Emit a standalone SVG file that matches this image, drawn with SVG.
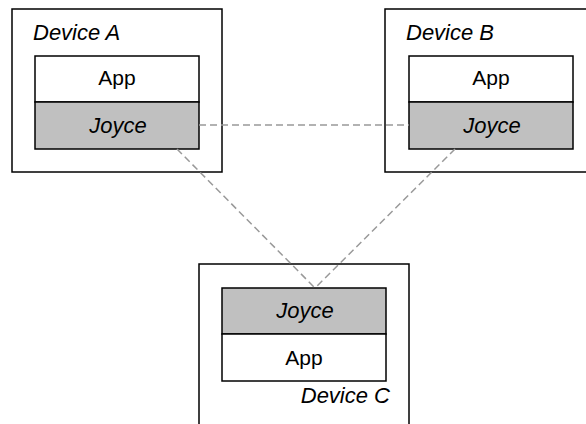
<svg xmlns="http://www.w3.org/2000/svg" width="586" height="424" viewBox="0 0 586 424">
  <style>
    .device { fill: #ffffff; stroke: #000000; stroke-width: 1.5; }
    .app { fill: #ffffff; stroke: #000000; stroke-width: 1.5; }
    .joyce { fill: #c0c0c0; stroke: #000000; stroke-width: 1.5; }
    text { font-family: "Liberation Sans", Arial, sans-serif; font-size: 21px; fill: #000000; }
    .label { font-style: italic; font-size: 22px; }
    .mid { text-anchor: middle; }
    .link { fill: none; stroke: #999999; stroke-width: 1.5; stroke-dasharray: 7 4; }
  </style>

  <!-- Device A -->
  <g id="device-a">
    <rect class="device" x="12" y="9" width="210" height="163"/>
    <text class="label" x="33" y="40">Device A</text>
    <rect class="app" x="35" y="56" width="164" height="46"/>
    <text class="mid" x="117" y="85">App</text>
    <rect class="joyce" x="35" y="102" width="164" height="47"/>
    <text class="label mid" x="118" y="133">Joyce</text>
  </g>

  <!-- Device B -->
  <g id="device-b">
    <rect class="device" x="385" y="9" width="210" height="163"/>
    <text class="label" x="406" y="40">Device B</text>
    <rect class="app" x="409" y="56" width="164" height="46"/>
    <text class="mid" x="491" y="85">App</text>
    <rect class="joyce" x="409" y="102" width="164" height="47"/>
    <text class="label mid" x="492" y="133">Joyce</text>
  </g>

  <!-- Device C -->
  <g id="device-c">
    <rect class="device" x="199" y="264" width="210" height="180"/>
    <rect class="joyce" x="222" y="288" width="164" height="46"/>
    <text class="label mid" x="305" y="318">Joyce</text>
    <rect class="app" x="222" y="334" width="164" height="47"/>
    <text class="mid" x="304" y="365">App</text>
    <text class="label" x="390" y="403" text-anchor="end">Device C</text>
  </g>

  <!-- Links between the Joyce layers -->
  <g id="connectors">
    <line class="link" x1="199" y1="125" x2="409" y2="125"/>
    <line class="link" x1="177" y1="149" x2="315" y2="288"/>
    <line class="link" x1="455" y1="149" x2="315" y2="288"/>
  </g>
</svg>
